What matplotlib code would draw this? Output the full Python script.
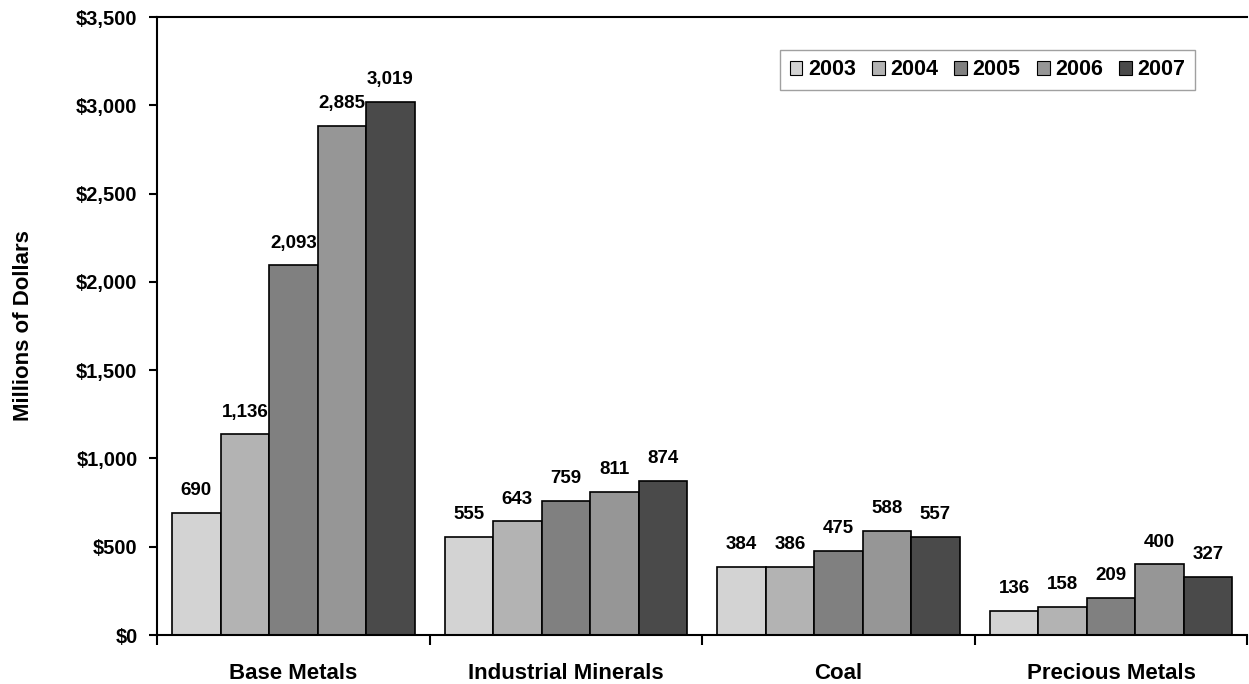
import matplotlib.pyplot as plt
import numpy as np
from matplotlib.ticker import FuncFormatter

plt.rcParams['font.family'] = ['Liberation Sans', 'DejaVu Sans']
plt.rcParams['font.weight'] = 'bold'

# Data
categories = ['Base Metals', 'Industrial Minerals', 'Coal', 'Precious Metals']
years = ['2003', '2004', '2005', '2006', '2007']
v2003 = [690, 555, 384, 136]
v2004 = [1136, 643, 386, 158]
v2005 = [2093, 759, 475, 209]
v2006 = [2885, 811, 588, 400]
v2007 = [3019, 874, 557, 327]
series = [v2003, v2004, v2005, v2006, v2007]
colors = ['#d3d3d3', '#b3b3b3', '#808080', '#969696', '#4a4a4a']

fig = plt.figure(figsize=(12.49, 6.84), dpi=100)
ax = fig.add_axes([0.1257, 0.0716, 0.873, 0.9035])

x = np.arange(len(categories))
w = 0.178
for i, (vals, c) in enumerate(zip(series, colors)):
    pos = x + (i - 2) * w
    bars = ax.bar(pos, vals, w, color=c, edgecolor='black', linewidth=1.2,
                  label=years[i])
    for b, v in zip(bars, vals):
        ax.annotate(f'{v:,}', (b.get_x() + b.get_width() / 2, v),
                    xytext=(0, 10), textcoords='offset points',
                    ha='center', va='bottom', fontsize=13.5, fontweight='bold')

ax.set_xlim(-0.5, len(categories) - 0.5)
ax.set_ylim(0, 3500)
ax.set_yticks(np.arange(0, 3501, 500))
ax.yaxis.set_major_formatter(FuncFormatter(lambda v, p: f'${v:,.0f}'))
ax.set_xticks(np.arange(-0.5, len(categories)))
ax.set_xticklabels([])
ax.set_xticks(x, minor=True)
ax.set_xticklabels(categories, minor=True, fontsize=16, fontweight='bold')
ax.tick_params(axis='x', which='minor', length=0, pad=20)
ax.tick_params(axis='x', which='major', direction='out', length=7, width=1.5)
ax.tick_params(axis='y', direction='out', length=6, width=1.5, labelsize=14.5, pad=8)
for t in ax.get_yticklabels():
    t.set_fontweight('bold')

ax.set_ylabel('Millions of Dollars', fontsize=16, fontweight='bold', labelpad=30)

ax.spines['right'].set_visible(False)
for s in ['left', 'bottom', 'top']:
    ax.spines[s].set_linewidth(1.5)

leg = ax.legend(ncol=5, loc='upper right', bbox_to_anchor=(0.952, 0.947),
                borderaxespad=0, fontsize=15.5, frameon=True, fancybox=False,
                handlelength=0.6, handleheight=0.6, handletextpad=0.25,
                columnspacing=0.75, borderpad=0.45)
leg.get_frame().set_edgecolor('#888888')
leg.get_frame().set_linewidth(1.0)
for t in leg.get_texts():
    t.set_fontweight('bold')
for h in leg.legend_handles:
    h.set_linewidth(0.8)

fig.savefig('out.png', dpi=100)
